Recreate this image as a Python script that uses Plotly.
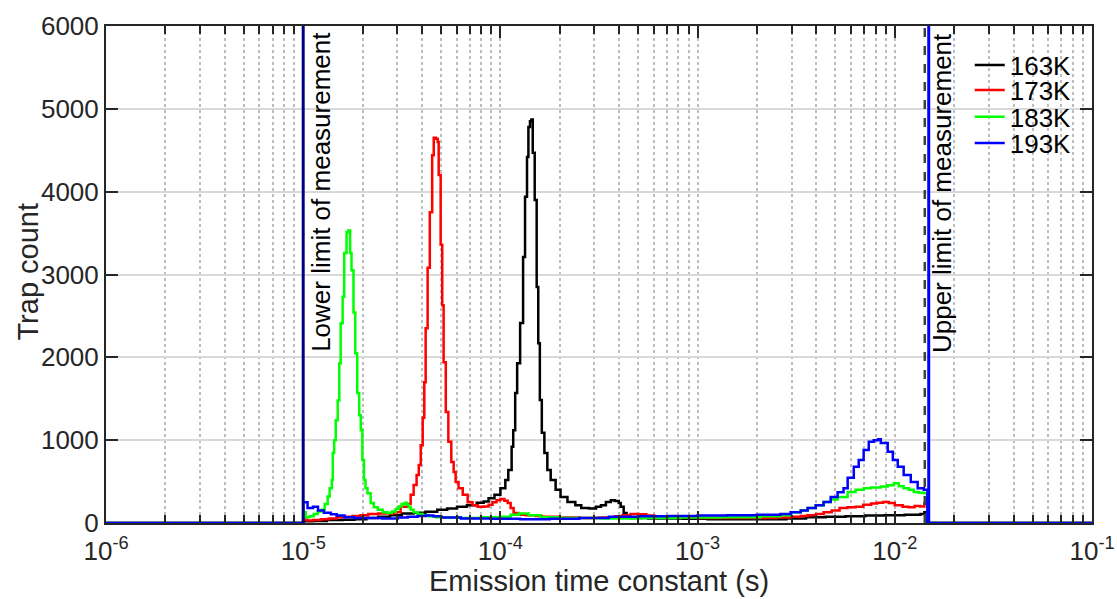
import plotly.graph_objects as go

# Measurement window (s)
lower_limit_s = 1e-5
upper_limit_s = 0.01419   # dashed marker
upper_edge_s = 0.01486    # solid marker
data_end_log = -1.835     # last bin edge of the histograms (log10 s)

temps = ["163K", "173K", "183K", "193K"]
colors = ["#000000", "#ff0000", "#00ff00", "#0000ff"]

# Histogram bin left edges (log10 of emission time constant) and trap counts
log_tau_163 = [-5.000, -4.950, -4.880, -4.800, -4.740, -4.680, -4.620, -4.560, -4.500, -4.440,
               -4.380, -4.320, -4.270, -4.220, -4.170, -4.120, -4.085, -4.060, -4.030, -4.000,
               -3.975, -3.960, -3.943, -3.935, -3.925, -3.915, -3.900, -3.885, -3.875, -3.865,
               -3.858, -3.850, -3.843, -3.836, -3.826, -3.816, -3.808, -3.800, -3.790, -3.777,
               -3.762, -3.745, -3.720, -3.695, -3.660, -3.620, -3.590, -3.550, -3.515, -3.490,
               -3.465, -3.440, -3.420, -3.400, -3.390, -3.375, -3.360, -3.340, -3.250, -3.100,
               -2.950, -2.800, -2.650, -2.550, -2.450, -2.350, -2.250, -2.150, -2.050, -1.950,
               -1.870, -1.850]
count_163 = [20, 25, 35, 40, 45, 60, 75, 95, 115, 125,
             135, 160, 175, 195, 215, 245, 260, 300, 340, 420,
             520, 640, 920, 1120, 1570, 1930, 2415, 3210, 3940, 4420,
             4780, 4850, 4870, 4470, 3900, 2850, 2170, 1485, 1090, 845,
             640, 520, 400, 315, 255, 215, 180, 175, 195, 215,
             255, 275, 265, 240, 195, 120, 75, 60, 55, 50,
             45, 45, 45, 55, 70, 75, 80, 90, 95, 100,
             110, 130]

log_tau_173 = [-5.000, -4.980, -4.950, -4.910, -4.870, -4.830, -4.790, -4.750, -4.710, -4.670,
               -4.620, -4.540, -4.506, -4.470, -4.455, -4.440, -4.425, -4.414, -4.404, -4.394,
               -4.386, -4.379, -4.369, -4.358, -4.346, -4.338, -4.328, -4.318, -4.313, -4.303,
               -4.295, -4.288, -4.277, -4.264, -4.249, -4.237, -4.227, -4.212, -4.191, -4.166,
               -4.141, -4.115, -4.085, -4.060, -4.040, -4.020, -4.000, -3.980, -3.963, -3.948,
               -3.933, -3.910, -3.870, -3.820, -3.790, -3.700, -3.600, -3.500, -3.420, -3.380,
               -3.340, -3.300, -3.260, -3.220, -3.100, -3.000, -2.850, -2.700, -2.600, -2.528,
               -2.477, -2.442, -2.400, -2.361, -2.320, -2.280, -2.240, -2.199, -2.160, -2.120,
               -2.090, -2.060, -2.030, -2.000, -1.960, -1.930, -1.900, -1.870, -1.850]
count_173 = [40, 30, 35, 45, 55, 70, 75, 85, 95, 110,
             115, 130, 195, 230, 340, 460, 580, 700, 940, 1270,
             1700, 2350, 3080, 3750, 4440, 4650, 4640, 4600, 4200, 3360,
             2630, 1940, 1340, 980, 735, 615, 495, 420, 340, 250,
             215, 195, 200, 220, 250, 275, 290, 270, 240, 180,
             120, 100, 95, 85, 75, 65, 60, 65, 80, 95,
             110, 105, 90, 75, 65, 60, 60, 60, 65, 75,
             85, 95, 110, 130, 150, 180, 190, 195, 220, 235,
             245, 255, 240, 215, 195, 190, 205, 200, 240]

log_tau_183 = [-5.000, -4.987, -4.967, -4.947, -4.926, -4.906, -4.891, -4.876, -4.866, -4.855,
               -4.850, -4.843, -4.835, -4.825, -4.817, -4.810, -4.800, -4.792, -4.780, -4.772,
               -4.762, -4.755, -4.745, -4.736, -4.726, -4.716, -4.708, -4.700, -4.692, -4.684,
               -4.674, -4.658, -4.642, -4.622, -4.597, -4.572, -4.551, -4.531, -4.516, -4.501,
               -4.485, -4.475, -4.465, -4.455, -4.440, -4.419, -4.394, -4.364, -4.328, -4.277,
               -4.201, -4.100, -3.998, -3.948, -3.907, -3.857, -3.796, -3.694, -3.491, -3.289,
               -3.086, -2.883, -2.680, -2.579, -2.528, -2.477, -2.442, -2.401, -2.361, -2.325,
               -2.290, -2.239, -2.199, -2.158, -2.122, -2.071, -2.036, -2.005, -1.980, -1.955,
               -1.929, -1.904, -1.879, -1.853]
count_183 = [130, 70, 80, 110, 140, 160, 230, 320, 420, 520,
             845, 1000, 1240, 1480, 1930, 2410, 2730, 3260, 3510, 3530,
             3260, 3050, 2540, 2050, 1570, 1300, 1120, 760, 520, 420,
             360, 240, 190, 160, 130, 120, 140, 170, 200, 230,
             245, 220, 190, 160, 130, 110, 90, 80, 70, 65,
             60, 70, 75, 100, 115, 95, 70, 60, 55, 60,
             65, 70, 80, 95, 130, 150, 180, 215, 255, 285,
             315, 375, 400, 420, 430, 440, 455, 480, 445, 420,
             400, 375, 365, 360]

log_tau_193 = [-5.000, -4.978, -4.950, -4.925, -4.895, -4.860, -4.830, -4.790, -4.740, -4.600,
               -4.520, -4.470, -4.420, -4.380, -4.340, -4.300, -4.200, -4.050, -3.900, -3.750,
               -3.600, -3.450, -3.300, -3.150, -3.000, -2.850, -2.700, -2.580, -2.528, -2.477,
               -2.442, -2.401, -2.361, -2.325, -2.290, -2.260, -2.239, -2.208, -2.183, -2.158,
               -2.132, -2.107, -2.085, -2.071, -2.036, -2.010, -1.985, -1.955, -1.919, -1.884,
               -1.853]
count_193 = [250, 180, 195, 150, 125, 105, 90, 70, 60, 55,
             65, 75, 85, 90, 80, 65, 55, 50, 45, 50,
             60, 75, 80, 85, 90, 95, 100, 110, 130, 150,
             180, 215, 255, 315, 370, 420, 545, 680, 760, 880,
             980, 1000, 1010, 965, 860, 760, 680, 580, 495, 420,
             400]

series = [(log_tau_163, count_163), (log_tau_173, count_173),
          (log_tau_183, count_183), (log_tau_193, count_193)]

x_tick_vals = [1e-6, 1e-5, 1e-4, 1e-3, 1e-2, 1e-1]
x_tick_text = ["10<sup>-6</sup>", "10<sup>-5</sup>", "10<sup>-4</sup>",
               "10<sup>-3</sup>", "10<sup>-2</sup>", "10<sup>-1</sup>"]
y_tick_vals = [0, 1000, 2000, 3000, 4000, 5000, 6000]

FONT = "Liberation Sans, Arial, sans-serif"
INK = "#262626"
TICK_SIZE = 26
TITLE_SIZE = 29

legend_ids = ["legend", "legend2", "legend3", "legend4"]
legend_rows_y = [0.9215, 0.871, 0.817, 0.7646]

fig = go.Figure()
for name, color, (lt, cnt), lid in zip(temps, colors, series, legend_ids):
    # zero outside the measurement window, step histogram inside it
    xs = [1e-6] + [10 ** v for v in lt] + [10 ** data_end_log, 1e-1]
    ys = [0] + list(cnt) + [0, 0]
    fig.add_trace(go.Scatter(x=xs, y=ys, mode="lines", name=name, legend=lid,
                             line=dict(color=color, width=2.5, shape="hv")))

# measurement limits
fig.add_shape(type="line", xref="x", yref="paper", x0=lower_limit_s, x1=lower_limit_s,
              y0=0, y1=1, line=dict(color="#000080", width=3), layer="above")
fig.add_shape(type="line", xref="x", yref="paper", x0=upper_limit_s, x1=upper_limit_s,
              y0=0, y1=1, line=dict(color="#404040", width=2.5, dash="dash"), layer="above")
fig.add_shape(type="line", xref="x", yref="paper", x0=upper_edge_s, x1=upper_edge_s,
              y0=0, y1=1, line=dict(color="#0000ff", width=3), layer="above")

fig.add_annotation(x=-5, y=4000, xref="x", yref="y", text="Lower limit of measurement",
                   textangle=-90, showarrow=False, xanchor="left", yanchor="middle",
                   xshift=0, font=dict(family=FONT, size=TICK_SIZE, color="#000000"))
fig.add_annotation(x=-1.828, y=3980, xref="x", yref="y", text="Upper limit of measurement",
                   textangle=-90, showarrow=False, xanchor="left", yanchor="middle",
                   xshift=-3, font=dict(family=FONT, size=TICK_SIZE, color="#000000"))

# axis titles
fig.add_annotation(x=0.5, y=-0.1167, xref="paper", yref="paper",
                   text="Emission time constant (s)", showarrow=False,
                   xanchor="center", yanchor="middle",
                   font=dict(family=FONT, size=29, color=INK))
fig.add_annotation(x=-0.0791, y=0.506, xref="paper", yref="paper",
                   text="Trap count", textangle=-90, showarrow=False,
                   xanchor="center", yanchor="middle",
                   font=dict(family=FONT, size=TITLE_SIZE, color=INK))

legend_layout = {}
for lid, ly in zip(legend_ids, legend_rows_y):
    legend_layout[lid] = dict(x=0.876, y=ly, xanchor="left", yanchor="middle",
                              bgcolor="rgba(0,0,0,0)", borderwidth=0,
                              font=dict(family=FONT, size=TICK_SIZE, color="#000000"))

fig.update_layout(
    width=1117, height=599,
    margin=dict(l=106, r=25, t=26, b=76, autoexpand=False),
    paper_bgcolor="white", plot_bgcolor="white",
    font=dict(family=FONT, size=TICK_SIZE, color=INK),
    showlegend=True,
    **legend_layout,
)
fig.update_xaxes(
    type="log", range=[-6, -1], automargin=False,
    tickvals=x_tick_vals, ticktext=x_tick_text, ticklabelstandoff=4,
    ticks="inside", ticklen=12, tickwidth=2, tickcolor=INK,
    showline=True, linecolor=INK, linewidth=2, mirror="allticks",
    showgrid=True, gridcolor="#bdbdbd", gridwidth=1.5, griddash="dot",
    minor=dict(dtick="D1", ticks="inside", ticklen=8, tickwidth=2, tickcolor=INK,
               showgrid=True, gridcolor="#bdbdbd", gridwidth=1.5, griddash="dot"),
    zeroline=False,
)
fig.update_yaxes(
    range=[0, 6000], tickvals=y_tick_vals, automargin=False,
    ticks="inside", ticklen=12, tickwidth=2, tickcolor=INK,
    showline=True, linecolor=INK, linewidth=2, mirror="allticks",
    showgrid=True, gridcolor="#d9d9d9", gridwidth=2,
    zeroline=False,
)

fig.write_html("out.html")
